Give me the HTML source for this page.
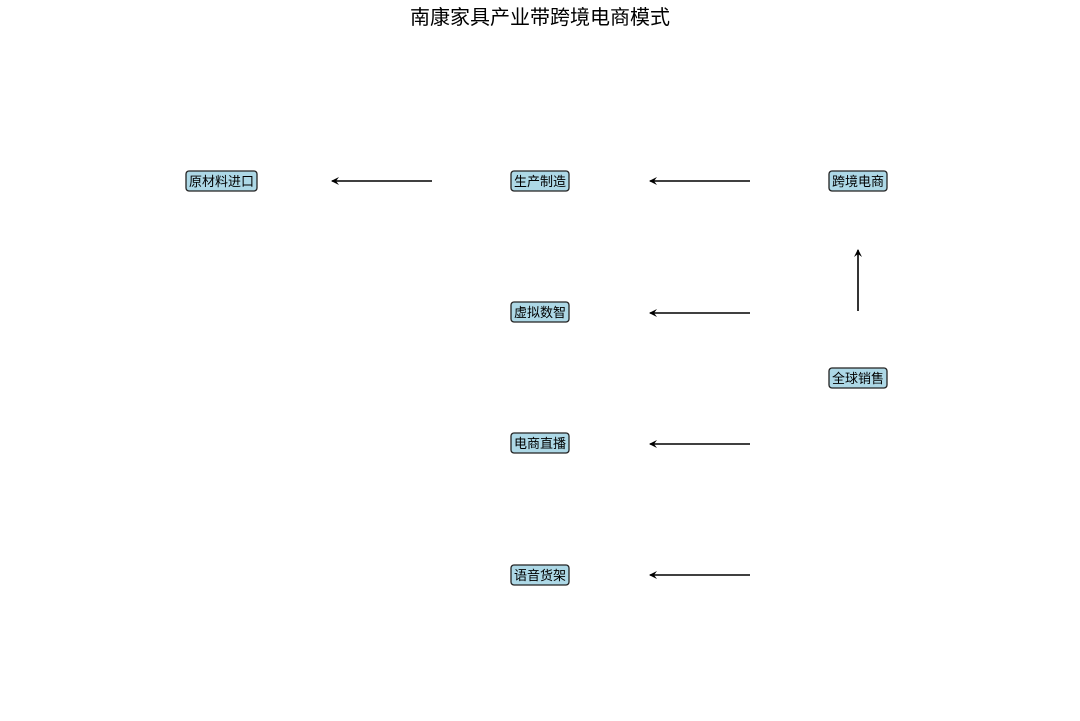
<!DOCTYPE html>
<html><head><meta charset="utf-8"><style>
html,body{margin:0;padding:0;background:#fff;}
svg text{font-family:"Liberation Sans","Noto Sans CJK SC",sans-serif;}
</style></head><body>
<svg width="1080" height="716" viewBox="0 0 1080 716" xmlns="http://www.w3.org/2000/svg">
<defs><marker id="a" markerWidth="8" markerHeight="8" refX="7" refY="4" orient="auto" markerUnits="userSpaceOnUse">
<path d="M0,0 L8,4 L0,8 L3,4 Z" fill="#000"/></marker></defs>
<text x="540" y="24" font-size="20" text-anchor="middle" fill="#000">南康家具产业带跨境电商模式</text>
<g fill="#add8e6" stroke="#222" stroke-width="1.3">
<rect x="186" y="171" width="71" height="20" rx="3"/>
<rect x="511" y="171" width="58" height="20" rx="3"/>
<rect x="829" y="171" width="58" height="20" rx="3"/>
<rect x="511" y="302" width="58" height="20" rx="3"/>
<rect x="829" y="368" width="58" height="20" rx="3"/>
<rect x="511" y="433" width="58" height="20" rx="3"/>
<rect x="511" y="565" width="58" height="20" rx="3"/>
</g>
<g font-size="13" text-anchor="middle" fill="#000">
<text x="221.5" y="186">原材料进口</text>
<text x="540" y="186">生产制造</text>
<text x="858" y="186">跨境电商</text>
<text x="540" y="317">虚拟数智</text>
<text x="858" y="383">全球销售</text>
<text x="540" y="448">电商直播</text>
<text x="540" y="580">语音货架</text>
</g>
<g stroke="#000" stroke-width="1.6" marker-end="url(#a)">
<line x1="432" y1="181" x2="332" y2="181"/>
<line x1="750" y1="181" x2="650" y2="181"/>
<line x1="750" y1="313" x2="650" y2="313"/>
<line x1="750" y1="444" x2="650" y2="444"/>
<line x1="750" y1="575" x2="650" y2="575"/>
<line x1="858" y1="311" x2="858" y2="250"/>
</g>
</svg>
</body></html>
